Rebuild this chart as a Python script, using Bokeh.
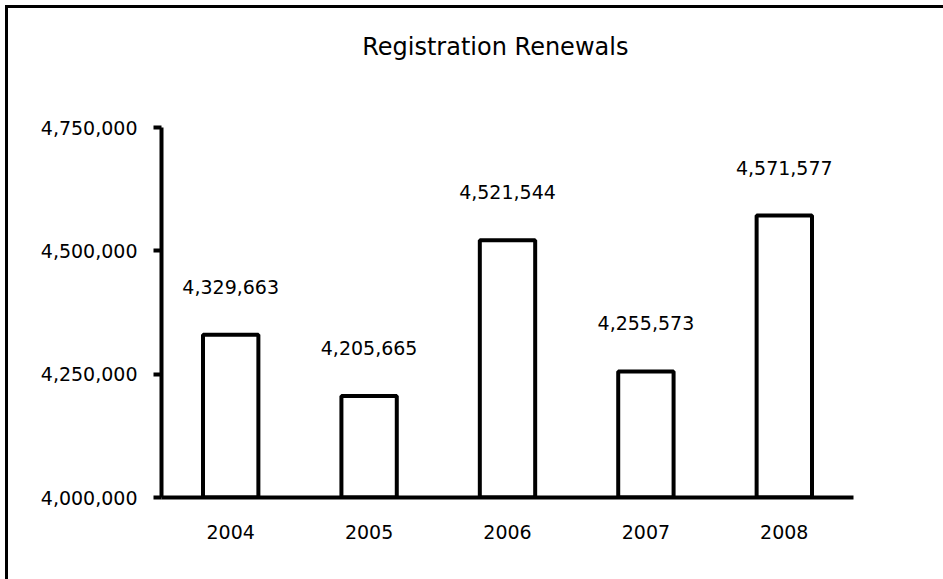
from bokeh.plotting import figure
from bokeh.layouts import column
from bokeh.models import (FactorRange, Range1d, FixedTicker, NumeralTickFormatter,
                          LabelSet, ColumnDataSource)
from bokeh.core.properties import value
from bokeh.embed import file_html
from bokeh.resources import INLINE

# ---- data ----
years = ["2004", "2005", "2006", "2007", "2008"]
renewals = [4329663, 4205665, 4521544, 4255573, 4571577]
y_ticks = [4000000, 4250000, 4500000, 4750000]
title_text = "Registration Renewals"

FONT = "DejaVu Sans"
W = 935
TITLE_H = 100
MAIN_H = 471

source = ColumnDataSource(dict(
    year=years,
    value=renewals,
    label=[f"{v:,}" for v in renewals],
))

# ---- title strip (pixel-like ranges, y measured from the top) ----
t = figure(width=W, height=TITLE_H, x_range=Range1d(0, W), y_range=Range1d(TITLE_H, 0),
           min_border=0, x_axis_location=None, y_axis_location=None,
           output_backend="svg", toolbar_location=None)
t.outline_line_color = None
t.xgrid.grid_line_color = None
t.ygrid.grid_line_color = None
t.text(x=[451], y=[38], text=[title_text], text_align="center",
       text_baseline="alphabetic", text_font=value(FONT),
       text_font_size="24px", text_color="black")

# ---- main chart ----
p = figure(
    x_range=FactorRange(*years, range_padding=0),
    y_range=Range1d(y_ticks[0], y_ticks[-1]),
    width=W, height=MAIN_H,
    min_border_left=153, min_border_right=90,
    min_border_top=19, min_border_bottom=82,
    output_backend="svg", toolbar_location=None,
)

p.vbar(x="year", top="value", bottom=y_ticks[0], width=0.4, source=source,
       fill_color="white", line_color="black", line_width=4)

labels = LabelSet(x="year", y="value", text="label", source=source,
                  y_offset=41, text_align="center", text_baseline="alphabetic",
                  text_font=value(FONT), text_font_size=value("19px"), text_color="black")
p.add_layout(labels)

p.outline_line_color = None
p.xgrid.grid_line_color = None
p.ygrid.grid_line_color = None
p.background_fill_color = "white"
p.border_fill_color = "white"

yax = p.yaxis[0]
yax.ticker = FixedTicker(ticks=y_ticks)
yax.formatter = NumeralTickFormatter(format="0,0")
yax.axis_line_width = 4
yax.axis_line_color = "black"
yax.major_tick_line_width = 4
yax.major_tick_out = 8
yax.major_tick_in = 0
yax.minor_tick_line_color = None
yax.major_label_standoff = 16
yax.major_label_text_font = FONT
yax.major_label_text_font_size = "19px"
yax.major_label_text_color = "black"

xax = p.xaxis[0]
xax.axis_line_width = 4
xax.axis_line_color = "black"
xax.major_tick_line_color = None
xax.major_tick_out = 0
xax.major_tick_in = 0
xax.minor_tick_line_color = None
xax.major_label_standoff = 27
xax.major_label_text_font = FONT
xax.major_label_text_font_size = "19px"
xax.major_label_text_color = "black"

layout = column(t, p, spacing=0)
layout.styles = {"margin-left": "5px", "margin-top": "5px",
                 "border-left": "3px solid black", "border-top": "3px solid black"}

open("out.html", "w").write(file_html(layout, INLINE))
